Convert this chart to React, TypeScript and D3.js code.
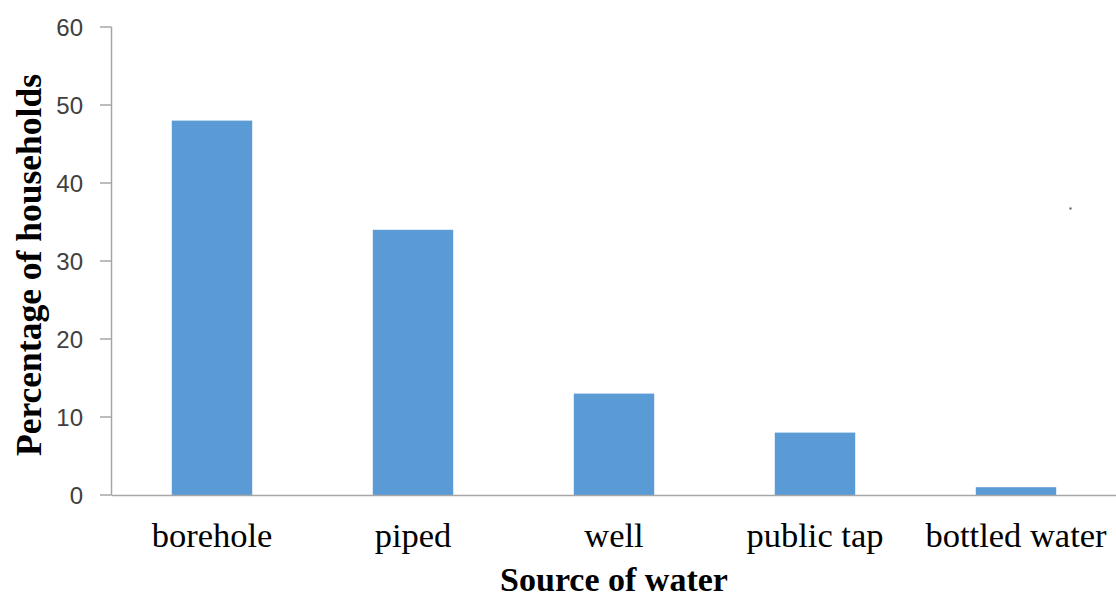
import React from "react";
import * as d3 from "d3";

const categories = ["borehole", "piped", "well", "public tap", "bottled water"];
const values = [48, 34, 13, 8, 1];
const yTicks = [0, 10, 20, 30, 40, 50, 60];

export default function App() {
  const W = 1116, H = 599;
  const x0 = 111.5, x1 = 1116.5, yTop = 27, yBot = 495;
  const x = d3.scaleBand<string>().domain(categories).range([x0, x1]).paddingInner(0.6).paddingOuter(0.3);
  const y = d3.scaleLinear().domain([0, 60]).range([yBot, yTop]);
  return (
    <svg width={W} height={H} style={{ position: "absolute", left: 0, top: 0, background: "#fff" }}>
      {categories.map((c, i) => (
        <rect key={c} x={x(c)} y={y(values[i])} width={x.bandwidth()} height={yBot - y(values[i])} fill="#5B9BD5" />
      ))}
      <line x1={x0} x2={x0} y1={yTop} y2={yBot} stroke="#a6a6a6" strokeWidth={1.5} />
      <line x1={x0} x2={W} y1={yBot + 0.5} y2={yBot + 0.5} stroke="#a6a6a6" strokeWidth={1.5} />
      {yTicks.map((t) => (
        <g key={t}>
          <line x1={100} x2={x0} y1={y(t)} y2={y(t)} stroke="#a6a6a6" strokeWidth={1.5} />
          <text x={83} y={y(t)} dy="0.36em" textAnchor="end" fontFamily="Liberation Sans, Arial, sans-serif" fontSize={24} fill="#404040">{t}</text>
        </g>
      ))}
      {categories.map((c) => (
        <text key={c} x={(x(c) as number) + x.bandwidth() / 2} y={547} textAnchor="middle" fontFamily="Liberation Serif, Times New Roman, serif" fontSize={34.5} fill="#000">{c}</text>
      ))}
      <text x={614} y={591} textAnchor="middle" fontFamily="Liberation Serif, Times New Roman, serif" fontWeight="bold" fontSize={34} fill="#000">Source of water</text>
      <text transform={`translate(41,265) rotate(-90)`} textAnchor="middle" fontFamily="Liberation Serif, Times New Roman, serif" fontWeight="bold" fontSize={35.5} fill="#000">Percentage of households</text>
      <rect x={1069.5} y={207.5} width={2} height={2} fill="#555" />
    </svg>
  );
}
